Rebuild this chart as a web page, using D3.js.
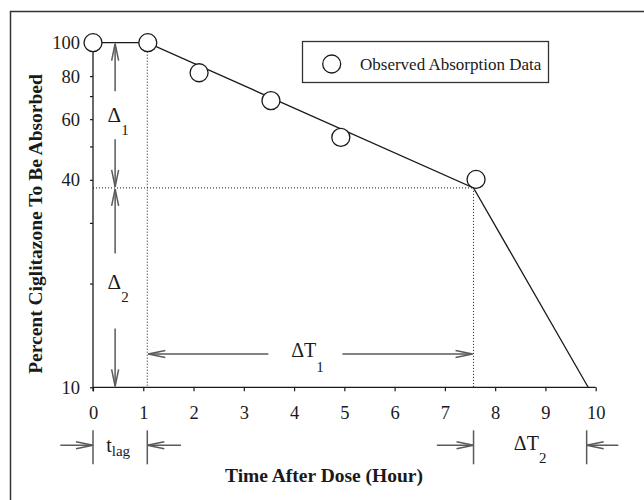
<!DOCTYPE html>
<html>
<head>
<meta charset="utf-8">
<script src="https://cdn.jsdelivr.net/npm/d3@7"></script>
<style>
  html, body { margin: 0; padding: 0; background: #fff; }
  svg { display: block; font-family: "Liberation Serif", "Times New Roman", serif; }
</style>
</head>
<body>
<svg id="chart" width="644" height="500"></svg>
<script>
// Observed fraction of ciglitazone remaining to be absorbed
const obsTime = [0, 1.09, 2.11, 3.54, 4.93, 7.62];
const obsPct  = [100, 100, 81.8, 67.9, 53.1, 40.1];

// Piecewise fitted absorption profile (lag, first phase, second phase)
const fitTime = [0, 1.08, 7.57, 9.85];
const fitPct  = [100, 100, 37.9, 10];

// Axis ticks
const xTicks = [0, 1, 2, 3, 4, 5, 6, 7, 8, 9, 10];
const yTicks = [10, 20, 30, 40, 50, 60, 70, 80, 100];
const yTickLabels = [10, 40, 60, 80, 100];

// Key times / levels used by the annotation arrows
const tLag = 1.08;
const tBreak = 7.57;
const tEnd = 9.82;
const pctBreak = 37.9;
const deltaX = 0.44;       // time at which the vertical Δ arrows sit
const deltaT1Level = 12.5; // level of the ΔT1 arrow

const svg = d3.select("#chart");
const x = d3.scaleLinear().domain([0, 10]).range([93, 595.7]);
const y = d3.scaleLog().domain([10, 100]).range([387.3, 42.7]);

const ink = "#1a1a1a";
const grey = "#5a5a5a";
const serif = "Liberation Serif";

// outer frame
svg.append("rect")
  .attr("x", 10.5).attr("y", 11.5).attr("width", 700).attr("height", 600)
  .attr("fill", "none").attr("stroke", "#333").attr("stroke-width", 1.5);

// x axis
const xAxis = svg.append("g")
  .attr("transform", `translate(0,${y(10)})`)
  .attr("font-family", serif)
  .call(d3.axisBottom(x).tickValues(xTicks).tickSize(4).tickPadding(15).tickFormat(d3.format("d")));
xAxis.attr("font-family", serif).attr("font-size", 18.5);
xAxis.select(".domain").attr("stroke", ink).attr("stroke-width", 1.3).attr("d", `M${x(0)},0H${x(10)}`);
xAxis.selectAll(".tick line").attr("stroke", ink).attr("stroke-width", 1.2);
xAxis.selectAll("text").attr("fill", ink);

// y axis (log)
const yAxis = svg.append("g")
  .attr("transform", `translate(${x(0)},0)`)
  .call(d3.axisLeft(y).tickValues(yTicks).tickSize(3).tickPadding(10)
    .tickFormat(d => yTickLabels.includes(d) ? String(d) : ""));
yAxis.attr("font-family", serif).attr("font-size", 18.5);
yAxis.select(".domain").attr("stroke", ink).attr("stroke-width", 1.3).attr("d", `M0,${y(10) + 4}V${y(100)}`);
yAxis.selectAll(".tick line").attr("stroke", ink).attr("stroke-width", 1.2);
yAxis.selectAll("text").attr("fill", ink);

// axis titles
svg.append("text")
  .attr("x", 324).attr("y", 482)
  .attr("text-anchor", "middle")
  .attr("font-size", 19.5).attr("font-weight", "bold").attr("fill", ink)
  .text("Time After Dose (Hour)");
svg.append("text")
  .attr("transform", "translate(42,224) rotate(-90)")
  .attr("text-anchor", "middle")
  .attr("font-size", 19.5).attr("font-weight", "bold").attr("fill", ink)
  .text("Percent Ciglitazone To Be Absorbed");

// dotted guide lines
const dotted = svg.append("g").attr("stroke", ink).attr("stroke-width", 1).attr("stroke-dasharray", "1,2").attr("fill", "none");
dotted.append("line").attr("x1", x(tLag)).attr("x2", x(tLag)).attr("y1", y(100)).attr("y2", y(10));
dotted.append("line").attr("x1", x(0)).attr("x2", x(tBreak)).attr("y1", y(pctBreak)).attr("y2", y(pctBreak));
dotted.append("line").attr("x1", x(tBreak)).attr("x2", x(tBreak)).attr("y1", y(pctBreak)).attr("y2", y(10));

// fitted line
svg.append("path")
  .datum(fitTime.map((t, i) => [t, fitPct[i]]))
  .attr("fill", "none").attr("stroke", ink).attr("stroke-width", 1.3)
  .attr("d", d3.line().x(d => x(d[0])).y(d => y(d[1])));

// line with an open arrowhead at (x2,y2)
function arrow(g, x1, y1, x2, y2, headLen = 17, headHalf = 3.5) {
  g.append("line").attr("x1", x1).attr("y1", y1).attr("x2", x2).attr("y2", y2);
  const len = Math.hypot(x2 - x1, y2 - y1);
  const ux = (x2 - x1) / len, uy = (y2 - y1) / len;
  const bx = x2 - ux * headLen, by = y2 - uy * headLen;
  const px = -uy * headHalf, py = ux * headHalf;
  g.append("path").attr("d", `M${bx + px},${by + py}L${x2},${y2}L${bx - px},${by - py}`);
}

const ann = svg.append("g").attr("stroke", grey).attr("stroke-width", 1.5).attr("fill", "none");

// Δ1 and Δ2 vertical arrows
function vDelta(top, bottom, gapUp, gapDown) {
  const xa = x(deltaX);
  const mid = (y(top) + y(bottom)) / 2;
  arrow(ann, xa, mid - gapUp, xa, y(top) + 1);
  arrow(ann, xa, mid + gapDown, xa, y(bottom) - 1);
  return mid;
}
const d1mid = vDelta(100, pctBreak, 24, 24);
const d2mid = vDelta(pctBreak, 10, 34, 41);

// ΔT1 horizontal arrow
const t1y = y(deltaT1Level);
const t1mid = (x(tLag) + x(tBreak)) / 2;
arrow(ann, t1mid - 42, t1y, x(tLag) + 1, t1y);
arrow(ann, t1mid + 32, t1y, x(tBreak) - 1, t1y);

// lag and ΔT2 brackets below the axis
const rowY = y(10) + 58;
function bracket(t0, t1, outerLeft, outerRight) {
  [t0, t1].forEach(t => {
    ann.append("line").attr("x1", x(t)).attr("x2", x(t)).attr("y1", rowY - 15).attr("y2", rowY + 19);
  });
  arrow(ann, x(outerLeft), rowY, x(t0), rowY);
  arrow(ann, x(outerRight), rowY, x(t1), rowY);
}
bracket(0, tLag, -0.65, 1.75);
bracket(tBreak, tEnd, 6.84, 10.45);

// annotation labels with subscripts
function subLabel(cx, cy, main, sub, mainSize, subSize, dx, dy) {
  const t = svg.append("text").attr("x", cx).attr("y", cy).attr("fill", ink).attr("text-anchor", "middle");
  t.append("tspan").attr("font-size", mainSize).text(main);
  t.append("tspan").attr("font-size", subSize).attr("dx", dx).attr("dy", dy).text(sub);
}
subLabel(x(deltaX) + 3, d1mid + 7, "Δ", "1", 21, 15, 0, 13);
subLabel(x(deltaX) + 3, d2mid + 1, "Δ", "2", 21, 15, 0, 13);
subLabel(t1mid - 3, t1y + 3, "ΔT", "1", 20, 15, 0, 15);
subLabel((x(0) + x(tLag)) / 2 - 2, rowY + 7, "t", "lag", 20, 15, 0, 4);
subLabel((x(tBreak) + x(tEnd)) / 2, rowY + 5, "ΔT", "2", 20, 15, 0, 13);

// observed data circles
svg.append("g").selectAll("circle")
  .data(obsTime.map((t, i) => [t, obsPct[i]]))
  .join("circle")
  .attr("cx", d => x(d[0])).attr("cy", d => y(d[1])).attr("r", 9)
  .attr("fill", "#fff").attr("stroke", ink).attr("stroke-width", 1.3);

// legend
const legend = svg.append("g");
legend.append("rect").attr("x", 302.5).attr("y", 41.5).attr("width", 246).attr("height", 41)
  .attr("fill", "#fff").attr("stroke", "#333").attr("stroke-width", 1.3);
legend.append("circle").attr("cx", 331.7).attr("cy", 64).attr("r", 9)
  .attr("fill", "#fff").attr("stroke", ink).attr("stroke-width", 1.3);
legend.append("text").attr("x", 360).attr("y", 69.5).attr("font-size", 17).attr("fill", ink)
  .text("Observed Absorption Data");
</script>
</body>
</html>
